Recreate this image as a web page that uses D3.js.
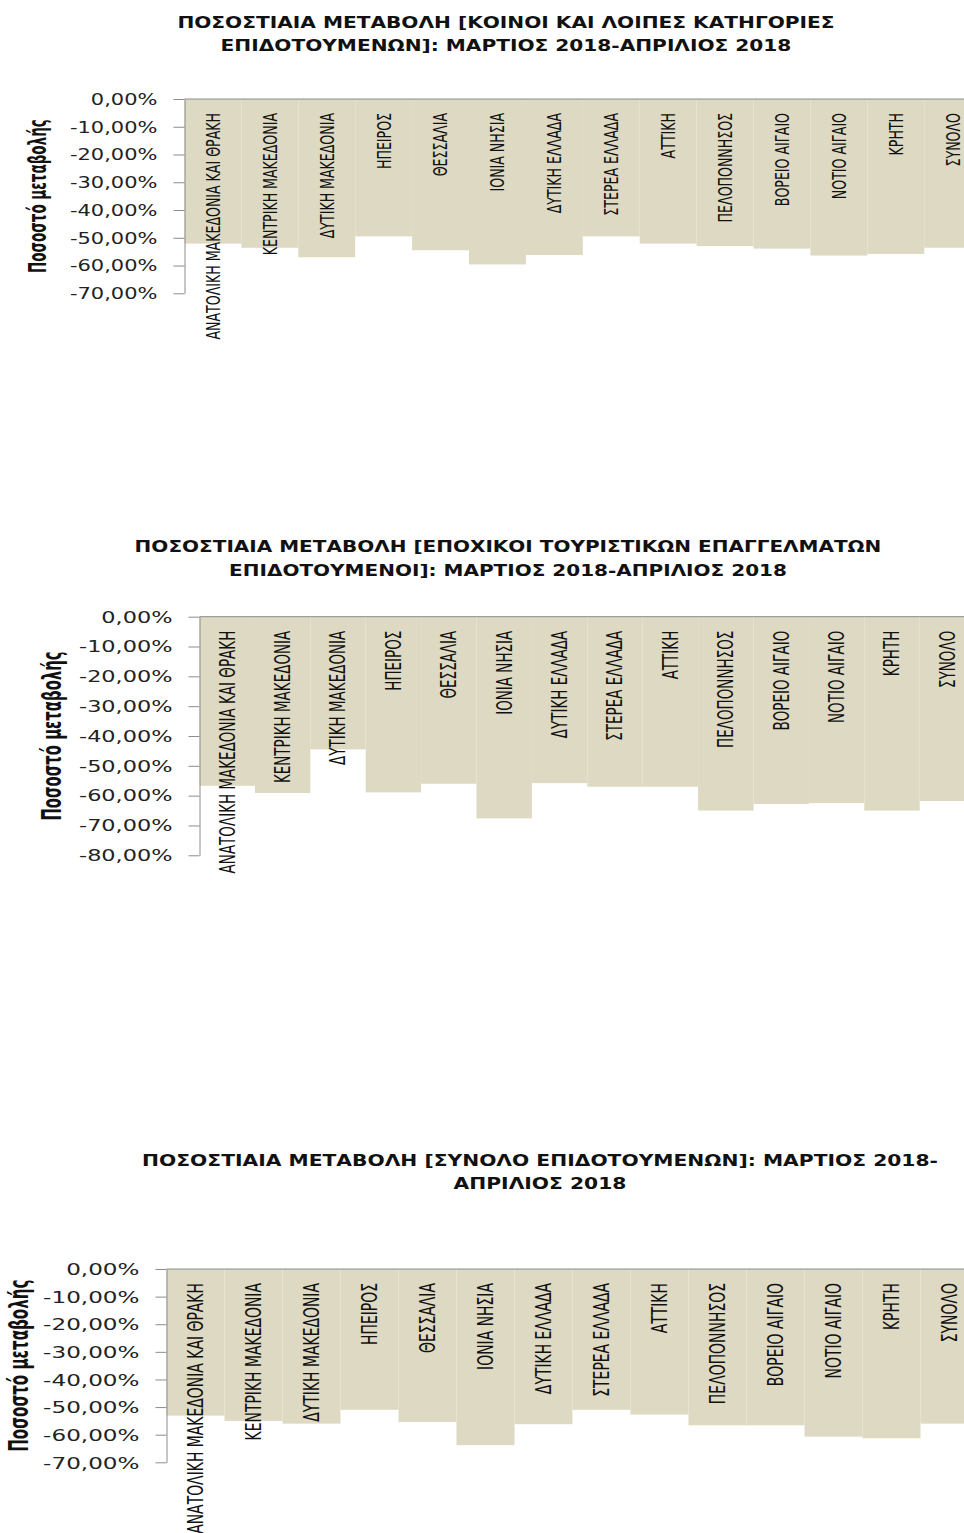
<!DOCTYPE html>
<html>
<head>
<meta charset="utf-8">
<script src="https://cdn.jsdelivr.net/npm/d3@7"></script>
<style>
  body { margin: 0; background: #fff; }
  svg { display: block; }
</style>
</head>
<body>
<div id="chart"></div>
<script>
// regions (same order in all three charts)
const categories = [
  "ΑΝΑΤΟΛΙΚΗ ΜΑΚΕΔΟΝΙΑ ΚΑΙ ΘΡΑΚΗ", "ΚΕΝΤΡΙΚΗ ΜΑΚΕΔΟΝΙΑ", "ΔΥΤΙΚΗ ΜΑΚΕΔΟΝΙΑ",
  "ΗΠΕΙΡΟΣ", "ΘΕΣΣΑΛΙΑ", "ΙΟΝΙΑ ΝΗΣΙΑ", "ΔΥΤΙΚΗ ΕΛΛΑΔΑ", "ΣΤΕΡΕΑ ΕΛΛΑΔΑ",
  "ΑΤΤΙΚΗ", "ΠΕΛΟΠΟΝΝΗΣΟΣ", "ΒΟΡΕΙΟ ΑΙΓΑΙΟ", "ΝΟΤΙΟ ΑΙΓΑΙΟ", "ΚΡΗΤΗ", "ΣΥΝΟΛΟ"
];

// % change March 2018 -> April 2018
const valuesCommon   = [-52.1, -53.6, -57.0, -49.5, -54.5, -59.6, -56.2, -49.5, -52.1, -53.0, -53.9, -56.4, -55.8, -53.6];
const valuesSeasonal = [-56.7, -59.1, -44.5, -58.9, -56.0, -67.6, -55.8, -57.0, -57.0, -65.0, -62.8, -62.5, -65.0, -61.8];
const valuesTotal    = [-53.1, -55.0, -56.0, -51.0, -55.4, -63.8, -56.2, -51.0, -52.7, -56.6, -56.6, -60.7, -61.3, -56.0];

const titleCommon = ["ΠΟΣΟΣΤΙΑΙΑ ΜΕΤΑΒΟΛΗ [ΚΟΙΝΟΙ ΚΑΙ ΛΟΙΠΕΣ ΚΑΤΗΓΟΡΙΕΣ", "ΕΠΙΔΟΤΟΥΜΕΝΩΝ]: ΜΑΡΤΙΟΣ 2018-ΑΠΡΙΛΙΟΣ 2018"];
const titleSeasonal = ["ΠΟΣΟΣΤΙΑΙΑ ΜΕΤΑΒΟΛΗ [ΕΠΟΧΙΚΟΙ ΤΟΥΡΙΣΤΙΚΩΝ ΕΠΑΓΓΕΛΜΑΤΩΝ", "ΕΠΙΔΟΤΟΥΜΕΝΟΙ]: ΜΑΡΤΙΟΣ 2018-ΑΠΡΙΛΙΟΣ 2018"];
const titleTotal = ["ΠΟΣΟΣΤΙΑΙΑ ΜΕΤΑΒΟΛΗ [ΣΥΝΟΛΟ ΕΠΙΔΟΤΟΥΜΕΝΩΝ]: ΜΑΡΤΙΟΣ 2018-", "ΑΠΡΙΛΙΟΣ 2018"];

const ticks70 = [0, -10, -20, -30, -40, -50, -60, -70];
const ticks80 = [0, -10, -20, -30, -40, -50, -60, -70, -80];

const yTitle = "Ποσοστό μεταβολής";

const width = 964, height = 1533;
const barColor = "#ddd9c3";
const axisColor = "#8c8c8c";
const narrow = "'Liberation Sans Narrow', 'DejaVu Sans Condensed', sans-serif";

const fmt = d3.formatLocale({ decimal: ",", thousands: ".", grouping: [3], currency: ["", "€"], minus: "-" }).format(".2f");

let svg = d3.select("#chart").append("svg")
  .attr("width", width)
  .attr("height", height);

svg.append("rect").attr("width", width).attr("height", height).attr("fill", "#fff");

// layout of each chart block (the original picture is stretched sideways, hence sx)
const charts = [
  { values: valuesCommon, title: titleCommon, ticks: ticks70,
    left: 184.5, band: 56.9, top: 99, bottom: 293.3, sx: 1.4,
    titleX: 506, titleY: [28, 51], titleSize: 16,
    yTitleX: 38, tickSize: 15, labelSize: 14, yTitleSize: 15, ySx: 1.6 },
  { values: valuesSeasonal, title: titleSeasonal, ticks: ticks80,
    left: 199.5, band: 55.4, top: 616.7, bottom: 855.3, sx: 1.4,
    titleX: 508, titleY: [552, 576], titleSize: 15.9,
    yTitleX: 52, tickSize: 16, labelSize: 15, yTitleSize: 16.5, ySx: 1.6 },
  { values: valuesTotal, title: titleTotal, ticks: ticks70,
    left: 166.5, band: 58.0, top: 1269, bottom: 1462.3, sx: 1.4,
    titleX: 540, titleY: [1166, 1189], titleSize: 16.1,
    yTitleX: 19, tickSize: 16.5, labelSize: 15.5, yTitleSize: 16.8, ySx: 1.6 }
];

charts.forEach(drawChart);

function drawChart(c) {
  const g = svg.append("g");

  const x = d3.scaleBand()
    .domain(categories)
    .range([c.left, c.left + c.band * categories.length])
    .padding(0);

  const y = d3.scaleLinear()
    .domain([d3.min(c.ticks), 0])
    .range([c.bottom, c.top]);

  // title
  c.title.forEach((line, i) => {
    g.append("text")
      .attr("transform", "translate(" + c.titleX + "," + c.titleY[i] + ") scale(" + c.sx + ",1)")
      .attr("text-anchor", "middle")
      .style("font-family", narrow)
      .style("font-weight", "bold")
      .style("font-size", c.titleSize + "px")
      .style("fill", "#111")
      .text(line);
  });

  // bars hang down from 0
  g.append("g")
    .selectAll("rect")
    .data(c.values)
    .enter()
    .append("rect")
    .attr("x", (d, i) => x(categories[i]))
    .attr("y", y(0))
    .attr("width", x.bandwidth())
    .attr("height", (d) => y(d) - y(0))
    .attr("fill", barColor);

  // category axis along 0
  g.append("line")
    .attr("x1", c.left).attr("x2", width)
    .attr("y1", y(0)).attr("y2", y(0))
    .attr("stroke", axisColor);

  // y axis
  const yAxis = g.append("g")
    .attr("transform", "translate(" + c.left + ",0)")
    .call(d3.axisLeft(y).tickValues(c.ticks).tickSize(11).tickSizeOuter(0).tickFormat((d) => fmt(d) + "%"));
  yAxis.select(".domain").attr("stroke", axisColor);
  yAxis.selectAll(".tick line").attr("stroke", axisColor);
  yAxis.selectAll(".tick text")
    .attr("x", null)
    .attr("dy", null)
    .attr("transform", "translate(-27,0) scale(" + c.sx + ",1)")
    .attr("dominant-baseline", "central")
    .style("font-family", "'DejaVu Sans', Verdana, sans-serif")
    .style("font-size", c.tickSize + "px")
    .style("fill", "#222");

  // category labels, rotated, hanging from the top
  g.append("g")
    .selectAll("text")
    .data(categories)
    .enter()
    .append("text")
    .attr("transform", (d) => "translate(" + (x(d) + x.bandwidth() / 2) + "," + (c.top + 14) + ") scale(" + c.sx + ",1) rotate(-90)")
    .attr("text-anchor", "end")
    .attr("dy", "0.35em")
    .style("font-family", narrow)
    .style("font-size", c.labelSize + "px")
    .style("fill", "#111")
    .text((d) => d);

  // y axis title
  g.append("text")
    .attr("transform", "translate(" + c.yTitleX + "," + (c.top + c.bottom) / 2 + ") scale(" + c.ySx + ",1) rotate(-90)")
    .attr("text-anchor", "middle")
    .attr("dy", "0.35em")
    .style("font-family", narrow)
    .style("font-weight", "bold")
    .style("font-size", c.yTitleSize + "px")
    .style("fill", "#111")
    .text(yTitle);
}
</script>
</body>
</html>
